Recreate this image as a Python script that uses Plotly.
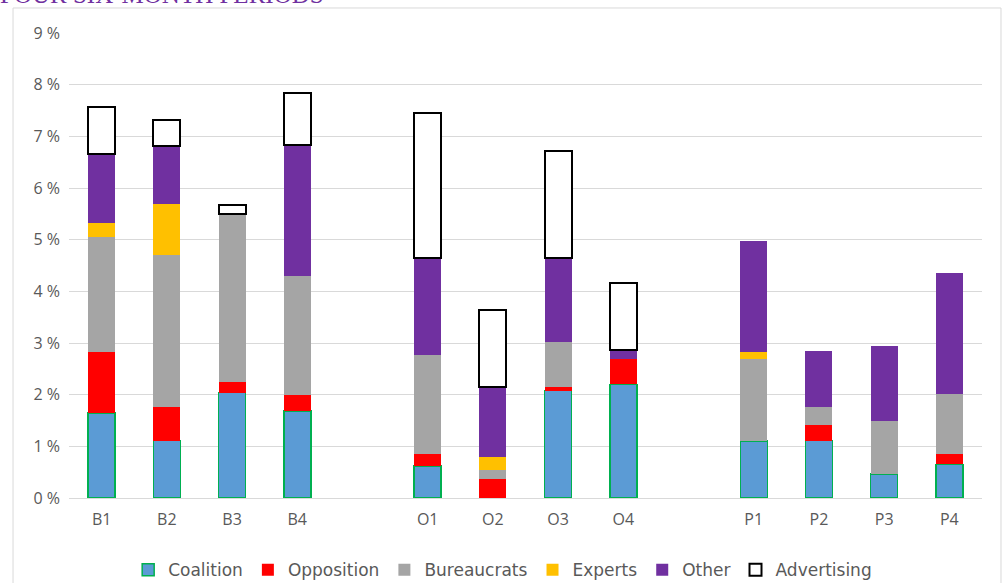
import plotly.graph_objects as go

categories = ["B1", "B2", "B3", "B4", " ", "O1", "O2", "O3", "O4", "  ", "P1", "P2", "P3", "P4"]

coalition    = [1.65, 1.11, 2.04, 1.68, None, 0.62, 0.00, 2.08, 2.20, None, 1.10, 1.11, 0.46, 0.65]
opposition   = [1.18, 0.66, 0.20, 0.32, None, 0.24, 0.37, 0.06, 0.50, None, 0.00, 0.31, 0.00, 0.20]
bureaucrats  = [2.23, 2.93, 3.25, 2.30, None, 1.91, 0.18, 0.87, 0.00, None, 1.59, 0.34, 1.04, 1.16]
experts      = [0.27, 1.00, 0.00, 0.00, None, 0.00, 0.25, 0.00, 0.00, None, 0.13, 0.00, 0.00, 0.00]
other        = [1.33, 1.11, 0.00, 2.54, None, 1.88, 1.35, 1.64, 0.16, None, 2.15, 1.08, 1.44, 2.34]
advertising  = [0.91, 0.51, 0.18, 1.00, None, 2.81, 1.48, 2.07, 1.31, None, 0.00, 0.00, 0.00, 0.00]

tick_vals = [0, 1, 2, 3, 4, 5, 6, 7, 8, 9]
tick_text = ["0 %", "1 %", "2 %", "3 %", "4 %", "5 %", "6 %", "7 %", "8 %", "9 %"]

title_text = "FOUR SIX-MONTH PERIODS"


def clean(vals):
    return [None if (v is None or v == 0) else v for v in vals]


series = [
    ("Coalition", coalition, "#5B9BD5", "#00B050", 1.5),
    ("Opposition", opposition, "#FF0000", "#FF0000", 0),
    ("Bureaucrats", bureaucrats, "#A5A5A5", "#A5A5A5", 0),
    ("Experts", experts, "#FFC000", "#FFC000", 0),
    ("Other", other, "#7030A0", "#7030A0", 0),
    ("Advertising", advertising, "#FFFFFF", "#000000", 2),
]

fig = go.Figure()
for name, vals, fill, line, lw in series:
    fig.add_trace(go.Bar(
        name=name,
        x=categories,
        y=clean(vals),
        marker=dict(color=fill, line=dict(color=line, width=lw)),
        hoverinfo="x+y+name",
    ))

fig.update_layout(
    barmode="stack",
    bargap=0.586,
    width=1006,
    height=583,
    margin=dict(l=69, r=24, t=33, b=85, autoexpand=False),
    paper_bgcolor="white",
    plot_bgcolor="white",
    font=dict(family="Open Sans", color="#595959"),
    showlegend=True,
    legend=dict(
        orientation="h",
        x=0.475, xanchor="center",
        y=-0.155, yanchor="middle",
        font=dict(size=17, color="#595959", family="DejaVu Sans"),
        itemwidth=30,
        traceorder="normal",
    ),
    xaxis=dict(
        type="category",
        categoryorder="array",
        categoryarray=categories,
        range=[-0.5, 13.5],
        showgrid=False,
        showline=False,
        ticks="",
        ticklabelstandoff=10,
        tickfont=dict(size=16, color="#595959"),
        fixedrange=True,
    ),
    yaxis=dict(
        range=[0, 9],
        tickvals=tick_vals,
        ticktext=tick_text,
        showgrid=True,
        gridcolor="#D9D9D9",
        gridwidth=1,
        zeroline=True,
        zerolinecolor="#D9D9D9",
        zerolinewidth=1,
        showline=False,
        ticks="",
        ticklabelstandoff=8,
        tickfont=dict(size=16, color="#595959"),
        fixedrange=True,
    ),
    shapes=[
        dict(type="rect", xref="paper", yref="paper",
             x0=-0.0613, x1=1.0208, y0=-0.3, y1=1.0538,
             line=dict(color="#D9D9D9", width=1), fillcolor="rgba(0,0,0,0)",
             layer="below"),
    ],
    annotations=[
        dict(text=title_text, xref="paper", yref="paper",
             x=-0.0778, y=1.0, xanchor="left", yanchor="bottom",
             yshift=23, showarrow=False,
             font=dict(family="Liberation Serif", size=25, color="#7030A0")),
    ],
)

fig.write_html(
    "out.html",
    config={"displayModeBar": False},
    post_script="document.body.style.margin='0';document.body.style.padding='0';",
)
